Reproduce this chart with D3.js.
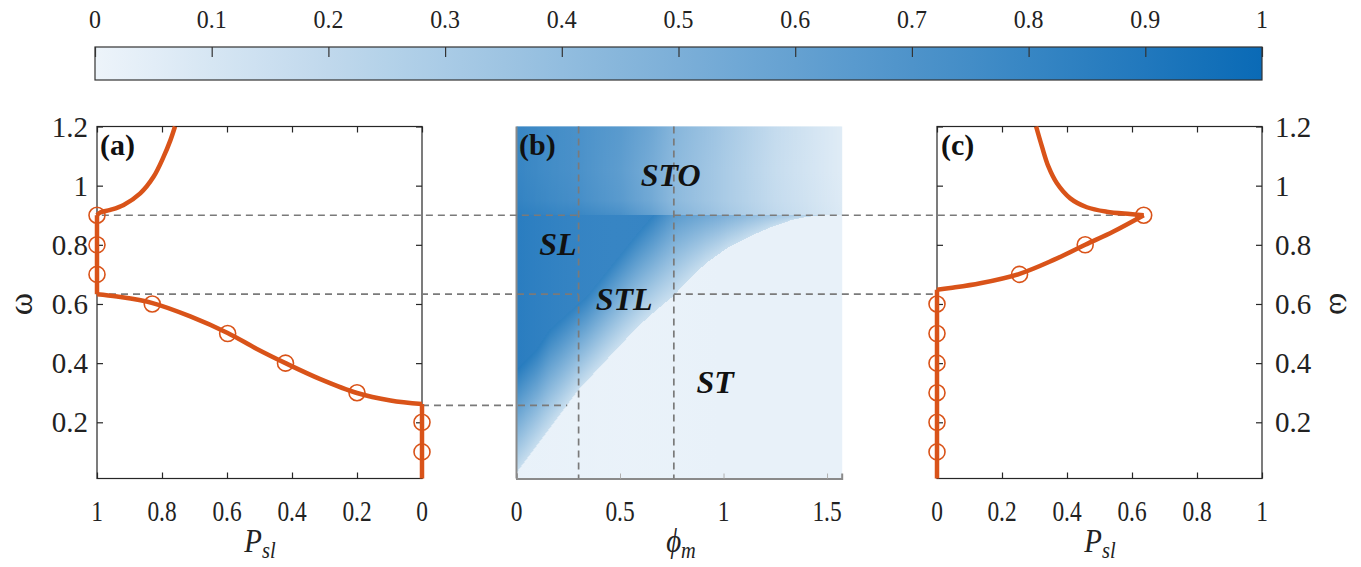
<!DOCTYPE html>
<html><head><meta charset="utf-8">
<script src="https://cdn.jsdelivr.net/npm/d3@7"></script>
<style>body{margin:0;background:#fff}svg{display:block}</style>
</head><body>
<svg id="chart" width="1361" height="567"></svg>
<script>
// ---------------- data ----------------
const colorbarTicks = [0, 0.1, 0.2, 0.3, 0.4, 0.5, 0.6, 0.7, 0.8, 0.9, 1];
const colorbarLabels = ["0", "0.1", "0.2", "0.3", "0.4", "0.5", "0.6", "0.7", "0.8", "0.9", "1"];
const omegaTicks = [0.2, 0.4, 0.6, 0.8, 1, 1.2];
const omegaTickLabels = ["0.2", "0.4", "0.6", "0.8", "1", "1.2"];
const pTicks = [0, 0.2, 0.4, 0.6, 0.8, 1];
const pTickLabels = ["0", "0.2", "0.4", "0.6", "0.8", "1"];
const phiTicks = [0, 0.5, 1, 1.5];
const phiTickLabels = ["0", "0.5", "1", "1.5"];
const colorEnds = ["#edf4fa", "#0a6ab6"];

// panel (a): P_sl vs omega
const aUpper = [[1, 0.9], [0.99, 0.909], [0.959, 0.918], [0.918, 0.935], [0.867, 0.974], [0.826, 1.03], [0.795, 1.098], [0.774, 1.154], [0.76, 1.2]];
const aJump = [[1, 0.9], [1, 0.633]];
const aLower = [[1, 0.633], [0.938, 0.625], [0.829, 0.603], [0.713, 0.558], [0.598, 0.502], [0.508, 0.448], [0.42, 0.4], [0.313, 0.346], [0.2, 0.299], [0.097, 0.274], [0, 0.262]];
const aTail = [[0, 0.262], [0, 0.01]];
const aMarkers = [[1, 0.9], [1, 0.8], [1, 0.7], [0.83, 0.6], [0.598, 0.5], [0.42, 0.4], [0.2, 0.3], [0, 0.2], [0, 0.1]];

// panel (c): P_sl vs omega
const cUpper = [[0.636, 0.9], [0.594, 0.904], [0.522, 0.912], [0.461, 0.927], [0.41, 0.957], [0.369, 1.008], [0.343, 1.064], [0.323, 1.132], [0.305, 1.2]];
const cLower = [[0, 0.648], [0.041, 0.654], [0.133, 0.67], [0.254, 0.702], [0.359, 0.749], [0.456, 0.8], [0.543, 0.845], [0.636, 0.9]];
const cTail = [[0, 0.648], [0, 0.01]];
const cMarkers = [[0, 0.1], [0, 0.2], [0, 0.3], [0, 0.4], [0, 0.5], [0, 0.6], [0.254, 0.7], [0.456, 0.8], [0.636, 0.9]];

// panel (b): phase map boundaries and levels
const lightEdgePhi = [0, 0.15, 0.3, 0.4, 0.5, 0.6, 0.68, 0.755, 0.84, 0.916, 1.02, 1.125, 1.23, 1.33, 1.4, 1.47, 1.571];
const lightEdgeOmega = [0.03, 0.17, 0.31, 0.385, 0.46, 0.532, 0.582, 0.625, 0.688, 0.738, 0.79, 0.828, 0.86, 0.884, 0.894, 0.9, 0.9];
const darkEdgePhi = [0, 0.1, 0.16, 0.25, 0.338, 0.42, 0.5, 0.58, 0.66];
const darkEdgeOmega = [0.378, 0.45, 0.513, 0.57, 0.625, 0.695, 0.765, 0.835, 0.9];
const bandTopPhi = [0, 0.66, 0.76, 1.0, 1.2, 1.4, 1.571];
const bandTopValue = [0.88, 0.88, 0.68, 0.5, 0.36, 0.26, 0.22];
const bandLowValue = 0.17;
const stValue = 0.02;
const slValue = 0.86;
const stoPhi = [0, 0.3, 0.5, 0.65, 0.76, 1.0, 1.25, 1.571];
const stoOmega = [0.9, 0.95, 1.05, 1.2];
const stoGrid = [
  [0.85, 0.84, 0.78, 0.65, 0.5, 0.33, 0.2, 0.08],
  [0.82, 0.78, 0.7, 0.58, 0.45, 0.3, 0.18, 0.07],
  [0.8, 0.76, 0.68, 0.56, 0.45, 0.3, 0.17, 0.06],
  [0.8, 0.76, 0.7, 0.6, 0.48, 0.32, 0.18, 0.06]
];
const regionLabels = [
  {text: "STO", phi: 0.745, omega: 1.0},
  {text: "SL", phi: 0.2, omega: 0.765},
  {text: "STL", phi: 0.52, omega: 0.58},
  {text: "ST", phi: 0.96, omega: 0.3}
];
const phiMarks = [0.3, 0.76];
// dashed guide lines: omega, start [panel, value], end [panel, value]
const guides = [
  {omega: 0.9, from: ["a", 0.985], to: ["b", 0.3]},
  {omega: 0.9, from: ["b", 0.76], to: ["c", 0.636]},
  {omega: 0.633, from: ["a", 1], to: ["b", 0.3]},
  {omega: 0.633, from: ["b", 0.76], to: ["c", 0]},
  {omega: 0.257, from: ["a", 0], to: ["b", 0.245]}
];

// ---------------- layout ----------------
const svg = d3.select("#chart");
const yTop = 126.5, yBot = 478.5;
const wMin = 0.01, wMax = 1.2;
const y = d3.scaleLinear().domain([wMin, wMax]).range([yBot, yTop]);
const xA = d3.scaleLinear().domain([1, 0]).range([97, 422]);
const xB = d3.scaleLinear().domain([0, Math.PI / 2]).range([516.5, 841.7]);
const xC = d3.scaleLinear().domain([0, 1]).range([937, 1262]);
const cb = d3.scaleLinear().domain([0, 1]).range([95, 1262]);
const color = d3.scaleLinear().domain([0, 1]).range(colorEnds).interpolate(d3.interpolateRgb);
const xOf = {a: xA, b: xB, c: xC};
const orange = "#D95319";
const serif = "'Liberation Serif','Times New Roman',serif";
const defs = svg.append("defs");

// ---------------- colorbar ----------------
const grad = defs.append("linearGradient").attr("id", "cbgrad");
d3.range(0, 1.0001, 0.05).forEach(t => grad.append("stop").attr("offset", t).attr("stop-color", color(t)));
svg.append("rect").attr("x", cb(0)).attr("y", 47).attr("width", cb(1) - cb(0)).attr("height", 33)
  .attr("fill", "url(#cbgrad)").attr("stroke", "#333").attr("stroke-width", 1.2);
const cbAxis = svg.append("g").attr("transform", "translate(0,47)")
  .call(d3.axisTop(cb).tickValues(colorbarTicks).tickSize(-10).tickFormat(""));
cbAxis.select(".domain").remove();
cbAxis.selectAll("line").attr("stroke", "#333").attr("stroke-width", 1.2);
colorbarTicks.forEach((t, i) => {
  svg.append("text").attr("transform", `translate(${cb(t)},28) scale(0.92,1)`)
    .attr("text-anchor", "middle").attr("font-family", serif).attr("font-size", 26)
    .attr("fill", "#222").text(colorbarLabels[i]);
});

// ---------------- heatmap (b) ----------------
function interp(xs, ys, x) {
  if (x <= xs[0]) return ys[0];
  for (let i = 1; i < xs.length; i++) {
    if (x <= xs[i]) { const t = (x - xs[i - 1]) / (xs[i] - xs[i - 1]); return ys[i - 1] + t * (ys[i] - ys[i - 1]); }
  }
  return ys[ys.length - 1];
}
function stoValue(phi, w) {
  const rows = stoGrid.map(r => interp(stoPhi, r, phi));
  return interp(stoOmega, rows, w);
}
function fieldValue(phi, w) {
  if (w >= 0.9) return stoValue(phi, w);
  const wl = interp(lightEdgePhi, lightEdgeOmega, phi);
  const wd = Math.min(0.9, interp(darkEdgePhi, darkEdgeOmega, phi));
  if (w <= wl) return stValue;
  if (w >= wd) return slValue;
  const t = (w - wl) / (wd - wl);
  const topV = interp(bandTopPhi, bandTopValue, phi);
  return bandLowValue + (topV - bandLowValue) * t;
}
// one column per pixel, each with an exact vertical gradient through the field's breakpoints
const nCols = Math.ceil(xB.range()[1] - xB.range()[0]);
const dphi = (Math.PI / 2) / nCols;
const columns = d3.range(nCols).map(i => {
  const phi = (i + 0.5) * dphi;
  const wl = interp(lightEdgePhi, lightEdgeOmega, phi);
  const wd = Math.min(0.9, interp(darkEdgePhi, darkEdgeOmega, phi));
  const bps = Array.from(new Set([wMin, wl, wd, 0.9, ...stoOmega, wMax]))
    .filter(w => w >= wMin && w <= wMax).sort((a, b) => a - b);
  const stops = [];
  bps.forEach(w => {
    const eps = 1e-5;
    [Math.max(wMin, w - eps), Math.min(wMax, w + eps)].forEach(ww =>
      stops.push({o: (ww - wMin) / (wMax - wMin), v: fieldValue(phi, ww)}));
  });
  return {i, phi0: i * dphi, stops};
});
columns.forEach(c => {
  const g = defs.append("linearGradient").attr("id", "col" + c.i)
    .attr("gradientUnits", "userSpaceOnUse").attr("x1", 0).attr("x2", 0).attr("y1", y(wMin)).attr("y2", y(wMax));
  c.stops.forEach(s => g.append("stop").attr("offset", s.o).attr("stop-color", color(s.v)));
});
svg.append("g").selectAll("rect").data(columns).join("rect")
  .attr("x", d => xB(d.phi0)).attr("y", y(wMax)).attr("width", xB(dphi) - xB(0) + 0.5)
  .attr("height", y(wMin) - y(wMax)).attr("fill", d => `url(#col${d.i})`);

// ---------------- frames & axes ----------------
function boxPanel(x) {
  const [x0, x1] = [Math.min(...x.range()), Math.max(...x.range())];
  svg.append("rect").attr("x", x0).attr("y", yTop).attr("width", x1 - x0).attr("height", yBot - yTop)
    .attr("fill", "none").attr("stroke", "#262626").attr("stroke-width", 1.2);
  const gB = svg.append("g").attr("transform", `translate(0,${yBot})`).call(d3.axisBottom(x).tickValues(pTicks).tickSize(-6).tickFormat(""));
  const gT = svg.append("g").attr("transform", `translate(0,${yTop})`).call(d3.axisTop(x).tickValues(pTicks).tickSize(-6).tickFormat(""));
  const gL = svg.append("g").attr("transform", `translate(${x0},0)`).call(d3.axisLeft(y).tickValues(omegaTicks).tickSize(-6).tickFormat(""));
  const gR = svg.append("g").attr("transform", `translate(${x1},0)`).call(d3.axisRight(y).tickValues(omegaTicks).tickSize(-6).tickFormat(""));
  [gB, gT, gL, gR].forEach(g => { g.select(".domain").remove(); g.selectAll("line").attr("stroke", "#262626").attr("stroke-width", 1.2); });
  pTicks.forEach((t, i) => {
    svg.append("text").attr("transform", `translate(${x(t)},521) scale(0.78,1)`).attr("text-anchor", "middle")
      .attr("font-family", serif).attr("font-size", 30).attr("fill", "#222").text(pTickLabels[i]);
  });
}
boxPanel(xA);
boxPanel(xC);

// panel (b) axes
const gbB = svg.append("g").attr("transform", `translate(0,${yBot})`)
  .call(d3.axisBottom(xB).tickValues(phiTicks).tickSize(-5).tickFormat(""));
gbB.select(".domain").attr("stroke", "#8a8a8a").attr("stroke-width", 2);
gbB.selectAll("line").attr("stroke", "#b0b0b0").attr("stroke-width", 1);
svg.append("line").attr("x1", xB(0)).attr("x2", xB(0)).attr("y1", yTop).attr("y2", yBot)
  .attr("stroke", "#8a8a8a").attr("stroke-width", 2);
phiTicks.forEach((t, i) => {
  svg.append("text").attr("transform", `translate(${xB(t)},521) scale(0.78,1)`).attr("text-anchor", "middle")
    .attr("font-family", serif).attr("font-size", 30).attr("fill", "#222").text(phiTickLabels[i]);
});

// y tick labels
omegaTicks.forEach((t, i) => {
  svg.append("text").attr("x", 88).attr("y", y(t) + 10).attr("text-anchor", "end")
    .attr("font-family", serif).attr("font-size", 29).attr("fill", "#222").text(omegaTickLabels[i]);
  svg.append("text").attr("x", 1275).attr("y", y(t) + 10).attr("text-anchor", "start")
    .attr("font-family", serif).attr("font-size", 29).attr("fill", "#222").text(omegaTickLabels[i]);
});

// ---------------- dashed guides ----------------
const dashG = svg.append("g").attr("stroke", "#7a7a7a").attr("stroke-width", 1.7).attr("stroke-dasharray", "7,5").attr("fill", "none");
phiMarks.forEach(p => dashG.append("line").attr("x1", xB(p)).attr("x2", xB(p)).attr("y1", yTop).attr("y2", yBot));
guides.forEach(g => dashG.append("line")
  .attr("x1", xOf[g.from[0]](g.from[1])).attr("x2", xOf[g.to[0]](g.to[1]))
  .attr("y1", y(g.omega)).attr("y2", y(g.omega)));

// ---------------- curves ----------------
function drawCurve(x, pts, curve) {
  svg.append("path").datum(pts)
    .attr("d", d3.line().x(d => x(d[0])).y(d => y(d[1])).curve(curve))
    .attr("fill", "none").attr("stroke", orange).attr("stroke-width", 4.5).attr("stroke-linejoin", "round");
}
function drawMarkers(x, pts) {
  svg.append("g").selectAll("circle").data(pts).join("circle")
    .attr("cx", d => x(d[0])).attr("cy", d => y(d[1])).attr("r", 8)
    .attr("fill", "none").attr("stroke", orange).attr("stroke-width", 1.6);
}
drawCurve(xA, aUpper, d3.curveCatmullRom.alpha(0.5));
drawCurve(xA, aJump, d3.curveLinear);
drawCurve(xA, aLower, d3.curveCatmullRom.alpha(0.5));
drawCurve(xA, aTail, d3.curveLinear);
drawMarkers(xA, aMarkers);
drawCurve(xC, cUpper, d3.curveCatmullRom.alpha(0.5));
drawCurve(xC, cLower, d3.curveCatmullRom.alpha(0.5));
drawCurve(xC, cTail, d3.curveLinear);
drawMarkers(xC, cMarkers);

// ---------------- labels ----------------
[["(a)", 100], ["(b)", 519], ["(c)", 941]].forEach(([t, x]) => {
  svg.append("text").attr("x", x).attr("y", 155).attr("font-family", serif).attr("font-weight", "bold")
    .attr("font-size", 30).attr("fill", "#111").text(t);
});
regionLabels.forEach(r => {
  svg.append("text").attr("x", xB(r.phi)).attr("y", y(r.omega)).attr("text-anchor", "middle")
    .attr("font-family", serif).attr("font-weight", "bold").attr("font-style", "italic")
    .attr("font-size", 32).attr("fill", "#111").text(r.text);
});
function axisTitle(x, main, sub) {
  const t = svg.append("text").attr("transform", `translate(${x},552) scale(0.85,1)`).attr("text-anchor", "middle")
    .attr("font-family", serif).attr("font-style", "italic").attr("font-size", 34).attr("fill", "#222");
  t.append("tspan").text(main);
  t.append("tspan").attr("font-size", 24).attr("dy", 6).text(sub);
}
axisTitle(260, "P", "sl");
axisTitle(681, "\u03D5", "m");
axisTitle(1100, "P", "sl");
svg.append("text").attr("transform", `translate(32,${y(0.6)}) rotate(-90)`).attr("text-anchor", "middle")
  .attr("font-family", serif).attr("font-size", 34).attr("fill", "#222").text("\u03C9");
svg.append("text").attr("transform", `translate(1330,${y(0.6)}) rotate(90)`).attr("text-anchor", "middle")
  .attr("font-family", serif).attr("font-size", 34).attr("fill", "#222").text("\u03C9");
</script>
</body></html>
